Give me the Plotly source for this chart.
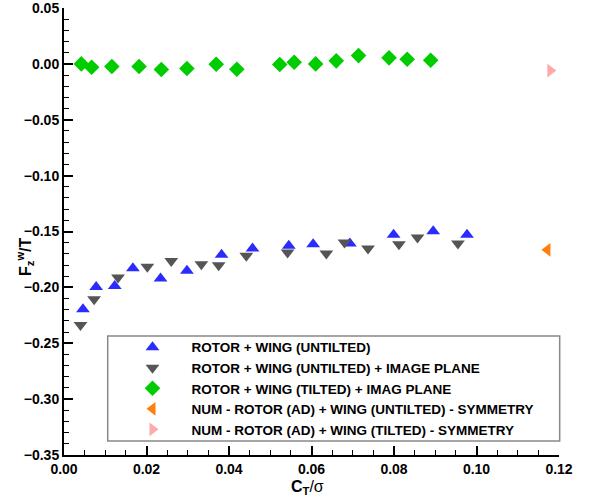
import plotly.graph_objects as go

# --- data ---
blue_x = [0.0046, 0.0078, 0.0123, 0.0167, 0.0234, 0.0298, 0.0382, 0.0457, 0.0545, 0.0604, 0.0693, 0.0799, 0.0895, 0.0977]
blue_y = [-0.2195, -0.1996, -0.1987, -0.1828, -0.1921, -0.1852, -0.1709, -0.1652, -0.1628, -0.1613, -0.1607, -0.1530, -0.1497, -0.1530]

gray_x = [0.0040, 0.0073, 0.0131, 0.0202, 0.0260, 0.0333, 0.0375, 0.0442, 0.0542, 0.0636, 0.0680, 0.0737, 0.0812, 0.0857, 0.0955]
gray_y = [-0.2336, -0.2106, -0.1912, -0.1816, -0.1763, -0.1792, -0.1801, -0.1718, -0.1688, -0.1697, -0.1598, -0.1652, -0.1613, -0.1554, -0.1607]

green_x = [0.0042, 0.0067, 0.0116, 0.0182, 0.0236, 0.0298, 0.0369, 0.0419, 0.0523, 0.0558, 0.0610, 0.0660, 0.0714, 0.0788, 0.0832, 0.0889]
green_y = [0.0000, -0.0030, -0.0024, -0.0024, -0.0051, -0.0042, -0.0003, -0.0048, -0.0006, 0.0014, 0.0000, 0.0027, 0.0074, 0.0054, 0.0041, 0.0032]

orange_x = [0.1172]
orange_y = [-0.1664]

pink_x = [0.1179]
pink_y = [-0.0060]

names = [
    "ROTOR + WING (UNTILTED)",
    "ROTOR + WING (UNTILTED) + IMAGE PLANE",
    "ROTOR + WING (TILTED) + IMAG PLANE",
    "NUM - ROTOR (AD) + WING (UNTILTED) - SYMMETRY",
    "NUM - ROTOR (AD) + WING (TILTED) - SYMMETRY",
]

x_ticks = [0.00, 0.02, 0.04, 0.06, 0.08, 0.10, 0.12]
y_ticks = [-0.35, -0.30, -0.25, -0.20, -0.15, -0.10, -0.05, 0.00, 0.05]

FONT = "Liberation Sans, Arial, Helvetica, sans-serif"

fig = go.Figure()
fig.add_trace(go.Scatter(x=blue_x, y=blue_y, mode="markers", name=names[0],
                         marker=dict(symbol="triangle-up", size=12, color="#2b2bff")))
fig.add_trace(go.Scatter(x=gray_x, y=gray_y, mode="markers", name=names[1],
                         marker=dict(symbol="triangle-down", size=12, color="#555555")))
fig.add_trace(go.Scatter(x=green_x, y=green_y, mode="markers", name=names[2],
                         marker=dict(symbol="diamond", size=12, color="#00cc00")))
fig.add_trace(go.Scatter(x=orange_x, y=orange_y, mode="markers", name=names[3],
                         marker=dict(symbol="triangle-left", size=12, color="#ff7f0e")))
fig.add_trace(go.Scatter(x=pink_x, y=pink_y, mode="markers", name=names[4],
                         marker=dict(symbol="triangle-right", size=12, color="#ffaaaa")))

axis_common = dict(
    showgrid=False, zeroline=False, showline=True, linecolor="black", linewidth=2,
    ticks="inside", ticklen=9, tickwidth=1.5, tickcolor="black",
    tickfont=dict(family=FONT, size=14, color="black", weight="bold"),
    tickformat=".2f", automargin=False, ticklabeloverflow="allow",
)

fig.update_xaxes(range=[0, 0.12], tickmode="array", tickvals=x_ticks,
                 minor=dict(dtick=0.005, tick0=0, ticks="inside", ticklen=5, tickcolor="black", tickwidth=1),
                 **axis_common)
fig.update_yaxes(range=[-0.35, 0.05], tickmode="array", tickvals=y_ticks,
                 minor=dict(dtick=0.01, tick0=0, ticks="inside", ticklen=5, tickcolor="black", tickwidth=1),
                 **axis_common)

# axis titles
fig.add_annotation(text="<b>C<sub>T</sub></b>/σ", xref="paper", yref="paper",
                   x=0.492, y=-0.048, xanchor="center", yanchor="top", showarrow=False,
                   font=dict(family=FONT, size=16, color="black"))
fig.add_annotation(text="<b>F<sub>z</sub><sup>w</sup>/T</b>", xref="paper", yref="paper",
                   x=-0.079, y=0.445, xanchor="center", yanchor="middle", showarrow=False,
                   textangle=-90, font=dict(family=FONT, size=16, color="black"))

# legend box
fig.add_shape(type="rect", xref="paper", yref="paper",
              x0=0.0883, x1=1.0014, y0=0.0313, y1=0.2664,
              line=dict(color="#888888", width=1.5), fillcolor="rgba(0,0,0,0)", layer="above")

fig.update_layout(
    width=591, height=497,
    margin=dict(l=64, r=32, t=8, b=42),
    paper_bgcolor="white", plot_bgcolor="white",
    showlegend=True,
    legend=dict(x=0.10, y=0.149, xanchor="left", yanchor="middle",
                bgcolor="rgba(0,0,0,0)", borderwidth=0,
                itemwidth=68,
                font=dict(family=FONT, size=13.5, color="black", weight="bold")),
)

fig.write_html("out.html", config={"displayModeBar": False},
               post_script="document.body.style.margin='0';document.body.style.padding='0';")
